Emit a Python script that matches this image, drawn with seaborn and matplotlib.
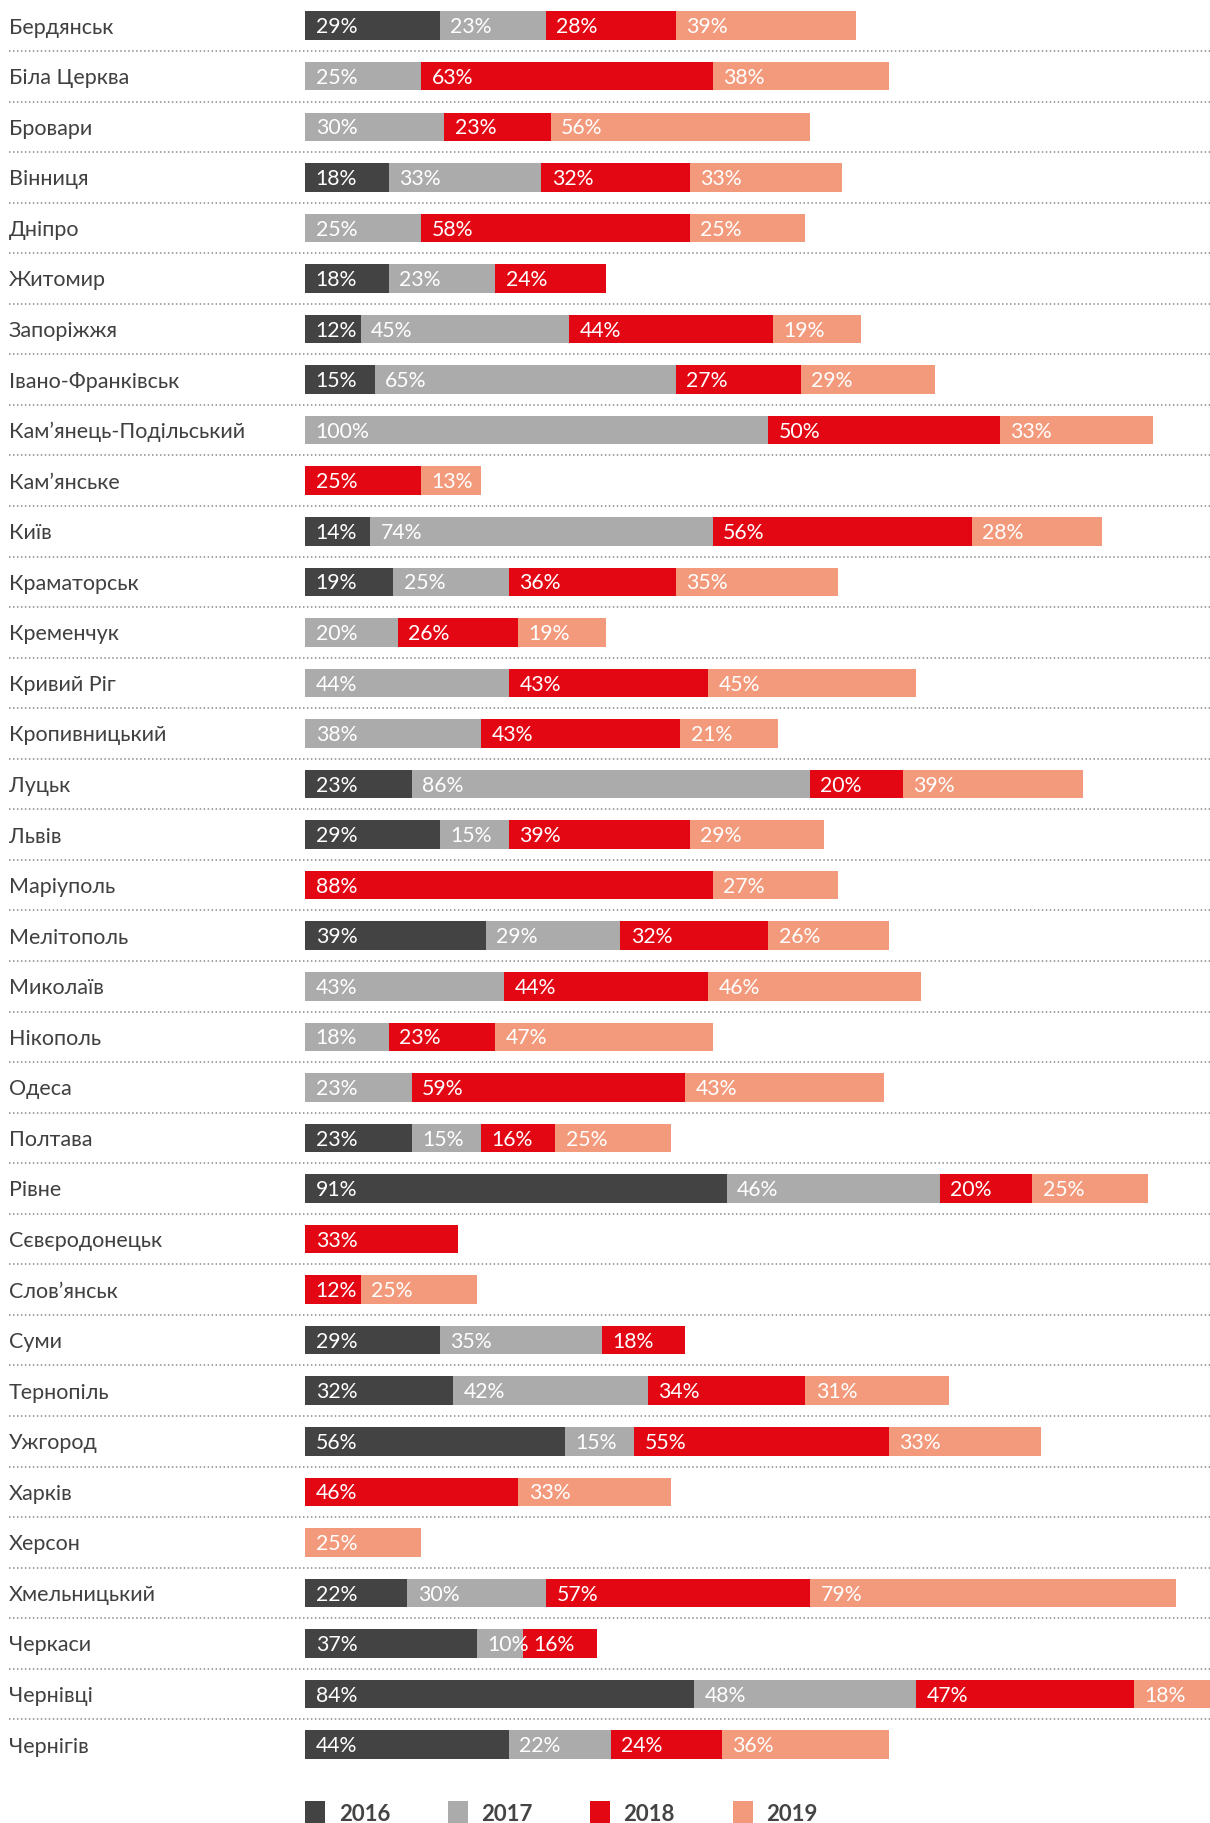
import numpy as np
import pandas as pd
import matplotlib
matplotlib.use('Agg')
import matplotlib.pyplot as plt
from matplotlib.patches import Patch
import seaborn as sns

# data (percent)
cities = ['Бердянськ', 'Біла Церква', 'Бровари', 'Вінниця', 'Дніпро', 'Житомир',
          'Запоріжжя', 'Івано-Франківськ', 'Кам’янець-Подільський', 'Кам’янське',
          'Київ', 'Краматорськ', 'Кременчук', 'Кривий Ріг', 'Кропивницький', 'Луцьк',
          'Львів', 'Маріуполь', 'Мелітополь', 'Миколаїв', 'Нікополь', 'Одеса',
          'Полтава', 'Рівне', 'Сєвєродонецьк', 'Слов’янськ', 'Суми', 'Тернопіль',
          'Ужгород', 'Харків', 'Херсон', 'Хмельницький', 'Черкаси', 'Чернівці', 'Чернігів']
v2016 = [29, 0, 0, 18, 0, 18, 12, 15, 0, 0, 14, 19, 0, 0, 0, 23, 29, 0, 39, 0, 0, 0,
         23, 91, 0, 0, 29, 32, 56, 0, 0, 22, 37, 84, 44]
v2017 = [23, 25, 30, 33, 25, 23, 45, 65, 100, 0, 74, 25, 20, 44, 38, 86, 15, 0, 29, 43, 18, 23,
         15, 46, 0, 0, 35, 42, 15, 0, 0, 30, 10, 48, 22]
v2018 = [28, 63, 23, 32, 58, 24, 44, 27, 50, 25, 56, 36, 26, 43, 43, 20, 39, 88, 32, 44, 23, 59,
         16, 20, 33, 12, 18, 34, 55, 46, 0, 57, 16, 47, 24]
v2019 = [39, 38, 56, 33, 25, 0, 19, 29, 33, 13, 28, 35, 19, 45, 21, 39, 29, 27, 26, 46, 47, 43,
         25, 25, 0, 25, 0, 31, 33, 33, 25, 79, 0, 18, 36]
years = ['2016', '2017', '2018', '2019']
colors = ['#434343', '#ababab', '#e30613', '#f39a7c']

df = pd.DataFrame({'city': cities, '2016': v2016, '2017': v2017,
                   '2018': v2018, '2019': v2019})
cum = df[years].cumsum(axis=1)
for y in years:
    df['cum' + y] = cum[y]

sns.set_style('white')
plt.rcParams['font.family'] = ['Lato', 'Open Sans', 'DejaVu Sans']

W, H = 1210, 1823
x0 = 305.3
fig = plt.figure(figsize=(W / 100, H / 100), dpi=100)
ax = fig.add_axes([x0 / W, 1 - 1780 / H, 1 - x0 / W, 1780 / H])

# stacked bars: draw cumulative totals, longest first
for k in reversed(range(4)):
    sns.barplot(data=df, x='cum' + years[k], y='city', color=colors[k], orient='h',
                width=0.564, saturation=1, linewidth=0, ax=ax)

n = len(cities)
ax.set_xlim(0, (W - x0) / 4.63)
ax.set_ylim(34.70, -0.508)

# segment labels
for i, row in df.iterrows():
    start = 0
    for y in years:
        v = row[y]
        if v > 0:
            ax.annotate(f'{v}%', xy=(start, i), xytext=(7.5, -5.5), textcoords='offset points',
                        color='white', fontsize=15.3, fontweight='normal',
                        va='baseline', ha='left')
        start += v

# dotted separators
for i in range(n - 1):
    ax.plot([(9 - x0) / (W - x0), 1], [i + 0.5, i + 0.5], transform=ax.get_yaxis_transform(),
            color='#8a8a8a', lw=1.1, linestyle=(0, (1, 1.6)), clip_on=False)

# city labels as tick labels, left aligned at the figure edge
ax.set_yticks(range(n))
ax.set_yticklabels(cities)
ax.tick_params(axis='y', length=0, pad=(x0 - 9) * 72 / 100, labelsize=15.5, labelcolor='#404040')
for lab in ax.get_yticklabels():
    lab.set_ha('left')
ax.set_xticks([])
ax.set_xlabel('')
ax.set_ylabel('')
sns.despine(ax=ax, left=True, bottom=True)

handles = [Patch(facecolor=c, edgecolor='none') for c in colors]
fig.legend(handles, years, loc='upper left', bbox_to_anchor=(x0 / W, 1 - 1801 / H),
           ncol=4, frameon=False, prop={'weight': 'bold', 'size': 16},
           handlelength=0.9, handleheight=1.4, handletextpad=0.6, columnspacing=2.6,
           borderpad=0, borderaxespad=0, labelcolor='#444444')

fig.savefig('out.png', dpi=100)
